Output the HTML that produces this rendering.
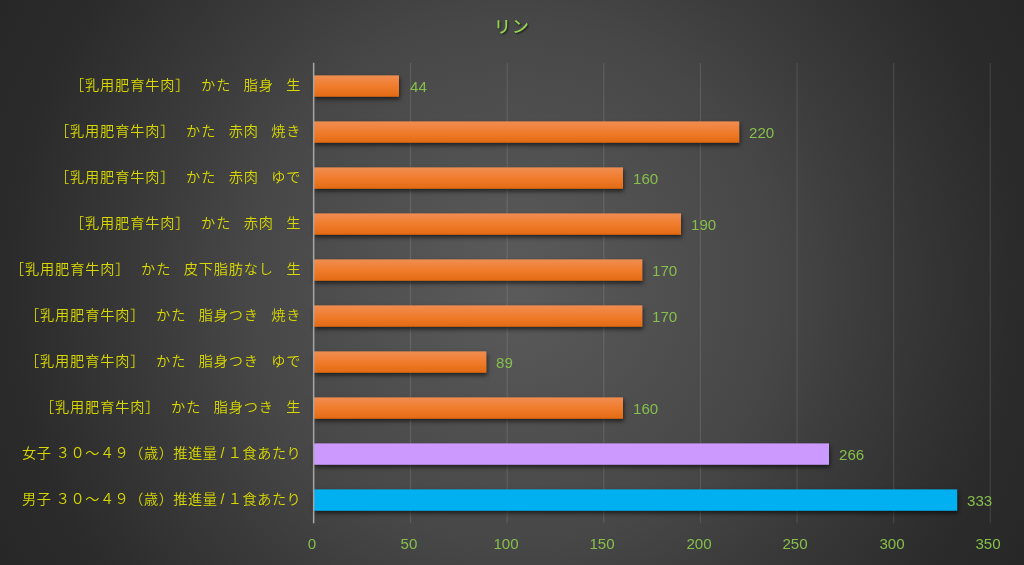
<!DOCTYPE html>
<html lang="ja">
<head>
<meta charset="utf-8">
<title>リン</title>
<style>
html,body{margin:0;padding:0;}
body{width:1024px;height:565px;overflow:hidden;position:relative;
  background:radial-gradient(circle farthest-corner at 50% 50%, #5b5b5b 0%, #474747 45%, #3c3c3c 60%, #323232 75%, #2b2b2b 86%, #272727 100%);
  font-family:"Liberation Sans","Noto Sans CJK JP",sans-serif;}
.title{will-change:transform;position:absolute;left:0;width:1024px;top:16px;text-align:center;color:#92d050;
  font-family:"Liberation Sans","Noto Sans CJK JP",sans-serif;font-size:16.8px;line-height:24px;font-weight:500;letter-spacing:1.2px;
  text-shadow:1px 1px 2px rgba(0,0,0,.7);}
.plot{position:absolute;left:0;top:0;}
.val{will-change:transform;position:absolute;margin-top:1px;color:#86bf4b;font-size:15.1px;line-height:22px;font-family:"Liberation Sans",sans-serif;}
.tick{will-change:transform;position:absolute;top:534px;width:60px;margin-left:-31px;text-align:center;color:#86bf4b;font-size:15.1px;line-height:20px;font-family:"Liberation Sans",sans-serif;}
.cat{will-change:transform;position:absolute;right:723px;margin-top:-1px;white-space:nowrap;color:#d8d800;font-size:14.2px;letter-spacing:0.85px;line-height:22px;
  font-family:"Liberation Sans","Noto Sans CJK JP",sans-serif;font-weight:350;}
.w{letter-spacing:3.7px}
.n{letter-spacing:-1.7px}
.r{letter-spacing:0.5px}
.sl{margin-left:3px;margin-right:3px}
</style>
</head>
<body>
<div class="title">リン</div>

<svg class="plot" width="1024" height="565" viewBox="0 0 1024 565">
<defs>
<linearGradient id="og" x1="0" y1="0" x2="0" y2="1"><stop offset="0" stop-color="#f08d52"/><stop offset=".5" stop-color="#f07c2c"/><stop offset="1" stop-color="#e36a14"/></linearGradient>
<filter id="sh" x="-10%" y="-60%" width="120%" height="240%"><feDropShadow dx="0.8" dy="2.6" stdDeviation="1.9" flood-color="#000" flood-opacity=".6"/></filter>
</defs>
<g fill="#ffffff" fill-opacity=".11">
<rect x="409.93" y="63" width="1.2" height="460.3"/>
<rect x="506.56" y="63" width="1.2" height="460.3"/>
<rect x="603.19" y="63" width="1.2" height="460.3"/>
<rect x="699.82" y="63" width="1.2" height="460.3"/>
<rect x="796.45" y="63" width="1.2" height="460.3"/>
<rect x="893.08" y="63" width="1.2" height="460.3"/>
<rect x="989.71" y="63" width="1.2" height="460.3"/>
</g>
<g filter="url(#sh)">
<rect x="313.6" y="75.4" width="85.4" height="21.3" fill="url(#og)"/>
<rect x="313.6" y="121.4" width="425.6" height="21.3" fill="url(#og)"/>
<rect x="313.6" y="167.4" width="309.4" height="21.3" fill="url(#og)"/>
<rect x="313.6" y="213.4" width="367.4" height="21.3" fill="url(#og)"/>
<rect x="313.6" y="259.4" width="328.7" height="21.3" fill="url(#og)"/>
<rect x="313.6" y="305.4" width="328.7" height="21.3" fill="url(#og)"/>
<rect x="313.6" y="351.4" width="172.7" height="21.3" fill="url(#og)"/>
<rect x="313.6" y="397.4" width="309.4" height="21.3" fill="url(#og)"/>
<rect x="313.6" y="443.4" width="515.4" height="21.3" fill="#cc99ff"/>
<rect x="313.6" y="489.4" width="643.5" height="21.3" fill="#00b0f0"/>
</g>
<rect x="312.9" y="62.8" width="1.5" height="460.5" fill="#a6a6a6"/>
</svg>

<div class="val" style="left:410px;top:75px">44</div>
<div class="val" style="left:749px;top:121px">220</div>
<div class="val" style="left:633px;top:167px">160</div>
<div class="val" style="left:691px;top:213px">190</div>
<div class="val" style="left:652px;top:259px">170</div>
<div class="val" style="left:652px;top:305px">170</div>
<div class="val" style="left:496px;top:351px">89</div>
<div class="val" style="left:633px;top:397px">160</div>
<div class="val" style="left:839px;top:443px">266</div>
<div class="val" style="left:967px;top:489px">333</div>

<div class="tick" style="left:313px">0</div>
<div class="tick" style="left:410px">50</div>
<div class="tick" style="left:507px">100</div>
<div class="tick" style="left:603px">150</div>
<div class="tick" style="left:700px">200</div>
<div class="tick" style="left:796px">250</div>
<div class="tick" style="left:893px">300</div>
<div class="tick" style="left:989px">350</div>

<div class="cat" style="top:75px">［乳用肥育牛肉］<span class="w">　</span>かた<span class="n">　</span>脂身<span class="n">　</span>生</div>
<div class="cat" style="top:121px">［乳用肥育牛肉］<span class="w">　</span>かた<span class="n">　</span>赤肉<span class="n">　</span>焼き</div>
<div class="cat" style="top:167px">［乳用肥育牛肉］<span class="w">　</span>かた<span class="n">　</span>赤肉<span class="n">　</span>ゆで</div>
<div class="cat" style="top:213px">［乳用肥育牛肉］<span class="w">　</span>かた<span class="n">　</span>赤肉<span class="n">　</span>生</div>
<div class="cat" style="top:259px">［乳用肥育牛肉］<span class="w">　</span>かた<span class="n">　</span>皮下脂肪なし<span class="n">　</span>生</div>
<div class="cat" style="top:305px">［乳用肥育牛肉］<span class="w">　</span>かた<span class="n">　</span>脂身つき<span class="n">　</span>焼き</div>
<div class="cat" style="top:351px">［乳用肥育牛肉］<span class="w">　</span>かた<span class="n">　</span>脂身つき<span class="n">　</span>ゆで</div>
<div class="cat" style="top:397px">［乳用肥育牛肉］<span class="w">　</span>かた<span class="n">　</span>脂身つき<span class="n">　</span>生</div>
<div class="cat r" style="top:443px">女子 ３０～４９（歳）推進量<span class="sl">/</span>１食あたり</div>
<div class="cat r" style="top:489px">男子 ３０～４９（歳）推進量<span class="sl">/</span>１食あたり</div>
</body>
</html>
